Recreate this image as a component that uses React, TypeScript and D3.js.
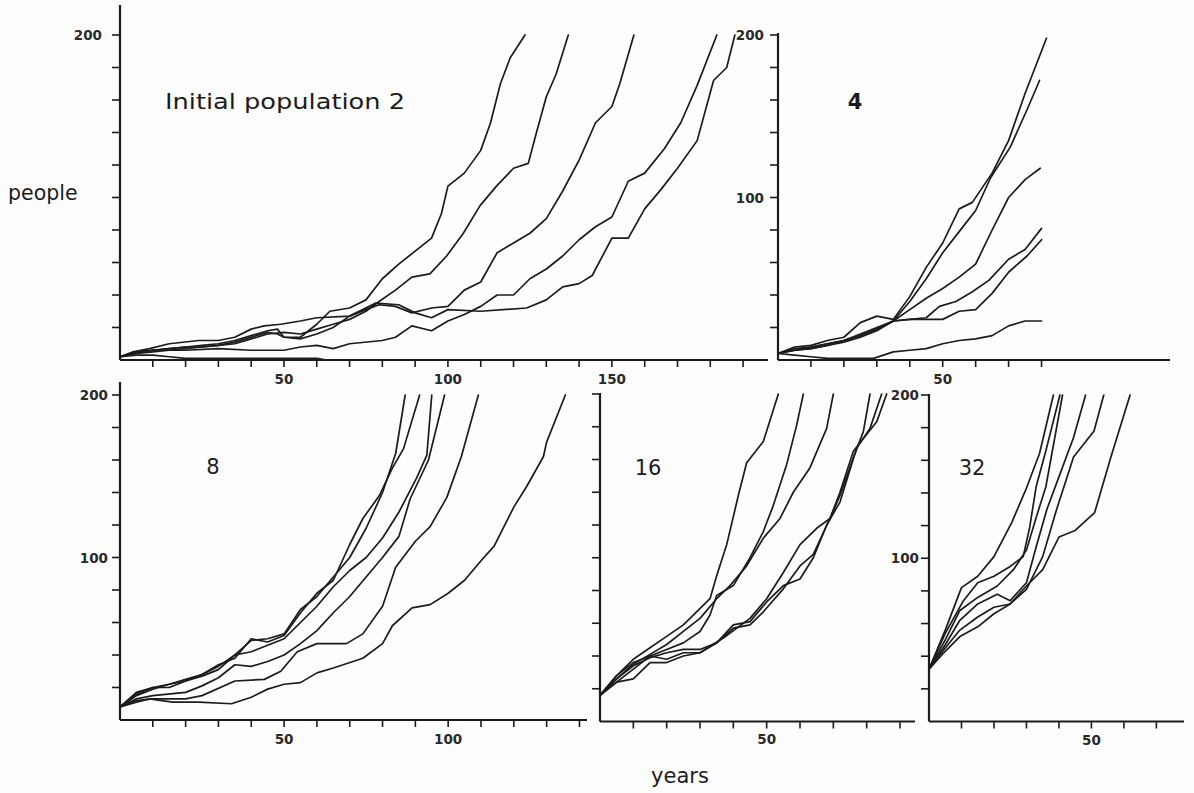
import React from 'react';
import * as d3 from 'd3';

type Pt = [number, number];

// ---------- data (years, people) ----------
const pop2Runs: Pt[][] = [
  [[0,2],[5,5],[10,6],[15,7],[20,8],[25,9],[30,10],[35,12],[40,15],[45,18],[48,19],[50,14],[55,14],[60,22],[64,30],[70,32],[75,37],[80,50],[85,59],[90,67],[95,75],[98,90],[100,107],[105,115],[110,129],[113,146],[116,170],[119,186],[123.5,200]],
  [[0,2],[5,4],[10,6],[15,7],[20,8],[25,8],[30,9],[35,10],[40,13],[45,16],[50,17],[55,16],[60,19],[65,22],[70,25],[75,30],[79,36],[84,43],[89,51],[94.5,53],[99.6,64],[104.7,78],[109.8,95],[114.8,107],[120,118],[124.5,121],[127,140],[130,162],[133,176],[136.7,200]],
  [[0,2],[5,4],[10,5],[15,6],[20,7],[25,8],[30,9],[35,11],[40,14],[45,17],[48,16],[50,14],[55,13],[60,16],[65,20],[70,27],[75,31],[79,34],[84,33],[89,29],[95,32],[100,33],[105,43],[110,48],[115,66],[120,72],[125,78],[130,87],[135,104],[140,123],[145,146],[150,156],[152.4,170],[156.7,200]],
  [[0,2],[5,5],[10,6],[20,6],[30,7],[40,6],[45,6],[50,6],[55,8],[60,9],[65,7],[70,10],[80,12],[84,14],[89,21],[95,18],[100,24],[105,28],[110,33],[115,40],[120,40],[125,50],[130,56],[135,64],[140,74],[145,82],[150,88],[155,110],[160,115],[166,130],[171,146],[176,169],[182,200]],
  [[0,2],[4,5],[9,7],[15,10],[24,12],[30,12],[35,14],[40,19],[44,21],[49,22],[55,24],[60,26],[70,27],[78,35],[85,34],[90,29],[95,26],[100,31],[110,30],[124,32],[130,37],[135,45],[140,47],[144,52],[150,75],[155,75],[160,93],[165,105],[170,118],[176,135],[181,172],[185,180],[187.5,200]],
  [[0,2],[5,3],[10,3],[15,2],[20,1],[60,1],[63,0]],
];

const pop4Runs: Pt[][] = [
  [[0,4],[5,8],[10,9],[15,12],[20,14],[25,23],[30,27],[35,25],[40,39],[45,57],[50,72],[55,93],[59,97],[65,115],[70,135],[75,164],[81.5,198]],
  [[0,4],[5,6],[10,8],[15,10],[20,12],[25,15],[30,19],[35,24],[40,36],[45,50],[50,66],[55,79],[60,92],[64.5,112],[70.5,131],[75.6,154],[79.4,172]],
  [[0,4],[5,6],[10,7],[15,9],[20,11],[25,14],[30,18],[35,24],[40,31],[45,38],[50,44],[55,51],[60,59],[65,80],[70,100],[75,111],[79.6,118]],
  [[0,4],[5,6],[10,7],[15,9],[20,12],[25,15],[30,19],[35,24],[40,25],[45,26],[49,33],[54,36],[59,42],[64,49],[70,62],[75,68],[80,81]],
  [[0,4],[5,7],[10,8],[15,10],[20,12],[25,16],[30,20],[35,24],[40,25],[45,25],[50,25],[55,30],[60,31],[65,41],[70,54],[75.6,64],[80,74]],
  [[0,4],[5,3],[10,2],[15,1],[20,1],[29,1],[35,5],[40,6],[45,7],[50,10],[55,12],[60,13],[65,15],[70,21],[75,24],[80,24]],
];

const pop8Runs: Pt[][] = [
  [[0,8],[5,17],[10,20],[15,22],[20,25],[25,28],[30,33],[35,40],[40,49],[45,50],[50,53],[55,68],[60,76],[65,88],[70,100],[75,118],[80,140],[84,164],[86.9,200]],
  [[0,8],[5,16],[10,20],[15,20],[20,24],[25,28],[30,34],[35,38],[40,50],[45,48],[50,52],[55,66],[60,78],[65,86],[70,108],[74,124],[79,138],[83,155],[86.4,167],[91.3,200]],
  [[0,8],[5,15],[10,19],[15,22],[20,24],[25,27],[30,31],[35,40],[40,42],[45,46],[50,50],[55,60],[60,70],[65,82],[70,92],[75,100],[80,112],[85,128],[90.4,149],[93.5,163],[95,200]],
  [[0,8],[5,13],[10,15],[20,17],[25,21],[30,26],[35,34],[40,33],[45,36],[50,40],[55,47],[60,55],[65,66],[70,76],[75,88],[80,100],[85,113],[88.4,136],[94,160],[98.9,200]],
  [[0,8],[5,12],[10,13],[20,13],[25,15],[35,24],[44,25],[49,30],[54,42],[60,47],[69,47],[74,53],[80,70],[84,94],[90,110],[94.5,119],[99.6,137],[104,162],[109.2,200]],
  [[0,8],[5,11],[9,13],[16,11],[24,11],[34,10],[40,14],[45,19],[50,22],[55,23],[60,29],[65,32],[74,38],[80,47],[83,58],[89,69],[94.5,71],[100,78],[105,86],[110,98],[114,107],[120,131],[124,144],[129,162],[130,171],[135.7,200]],
];

const pop16Runs: Pt[][] = [
  [[0,16],[5,28],[10,38],[15,45],[20,52],[25,59],[33,75],[35,89],[38,108],[41.5,138],[44,158],[49,171],[53.5,200]],
  [[0,16],[5,24],[10,32],[15,40],[20,44],[25,48],[30,55],[33,65],[35,77],[40,83],[45,100],[49,116],[52,132],[56,157],[59,181],[61,200]],
  [[0,16],[5,26],[10,35],[15,41],[20,47],[25,55],[30,63],[35,75],[39,83],[44,95],[49,112],[54,124],[58,140],[63,155],[68,179],[70,200]],
  [[0,16],[5,26],[10,34],[15,39],[20,42],[25,44],[30,44],[35,48],[40,57],[45,59],[49,67],[55,81],[60,95],[64,102],[69,124],[72,138],[76,161],[79,177],[81,200]],
  [[0,16],[5,28],[10,36],[15,40],[20,38],[25,42],[30,42],[35,48],[40,59],[45,61],[50,73],[55,83],[60,87],[64,100],[68,120],[72,134],[77,167],[81,179],[84.5,200]],
  [[0,16],[5,24],[10,26],[15,36],[20,36],[25,40],[30,42],[37,51],[45,63],[50,75],[55,91],[60,108],[65,118],[69,124],[72,140],[76,165],[83,183],[86,200]],
];

const pop32Runs: Pt[][] = [
  [[0,32],[5,56],[10,82],[15,89],[20,101],[25.5,122],[30,143],[34,164],[38.3,200]],
  [[0,32],[5,54],[10.6,74],[15,85],[20,89],[25,95],[29,101],[31,119],[33,144],[36,166],[40.3,200]],
  [[0,32],[5,50],[9.5,68],[15,76],[21,83],[26,93],[30,105],[33,125],[36,144],[41.1,200]],
  [[0,32],[5,47],[9.5,62],[15,72],[21,78],[25,74],[30,85],[33,107],[36.3,130],[40.4,152],[44.5,174],[48.2,200]],
  [[0,32],[5,45],[9.5,56],[15,64],[20,70],[25,72],[30,81],[35,101],[39.3,130],[44.5,162],[50.8,178],[53.8,200]],
  [[0,32],[5,43],[9.5,52],[15,58],[20,66],[25,72],[30,83],[35,93],[40,113],[45,117],[51,128],[56,162],[61.9,200]],
];

const panelLabels = ['Initial population 2', '4', '8', '16', '32'];
const yTickValues = [20, 40, 60, 80, 100, 120, 140, 160, 180, 200];
const yTickLabels: number[][] = [[200], [100, 200], [100, 200], [], [100, 200]];
const xTickLabels: number[][] = [[50, 100, 150], [50], [50, 100], [50], [50]];
const xTickMax = [190, 80, 140, 90, 70];
const yAxisTitle = 'people';
const xAxisTitle = 'years';

// ---------- layout ----------
const layout = [
  { runs: pop2Runs, xMax: 197.6, left: 120, right: 768, base: 360, top200: 35, axisTop: 5, yLabelRight: 102, xLabelBase: 384, labelX: 165, labelY: 109, anchor: 'start', labelW: 240 },
  { runs: pop4Runs, xMax: 119, left: 778, right: 1170, base: 360, top200: 35, axisTop: 33, yLabelRight: 764, xLabelBase: 384, labelX: 855, labelY: 109, anchor: 'middle', labelW: 0 },
  { runs: pop8Runs, xMax: 142.3, left: 120, right: 587, base: 720, top200: 395, axisTop: 382, yLabelRight: 108, xLabelBase: 744, labelX: 213, labelY: 474, anchor: 'middle', labelW: 0 },
  { runs: pop16Runs, xMax: 94.5, left: 600, right: 915, base: 721.5, top200: 394, axisTop: 393, yLabelRight: 590, xLabelBase: 744, labelX: 648, labelY: 475, anchor: 'middle', labelW: 0 },
  { runs: pop32Runs, xMax: 78.5, left: 929, right: 1184, base: 721.5, top200: 395, axisTop: 394, yLabelRight: 919, xLabelBase: 745, labelX: 972, labelY: 475, anchor: 'middle', labelW: 0 },
];

const ink = '#1c1c1c';

export default function App() {
  return (
    <div style={{ position: 'absolute', left: 0, top: 0 }}>
      <svg width={1194} height={793} style={{ display: 'block', background: '#fdfdfd' }}
        fontFamily="'DejaVu Sans', 'Open Sans', sans-serif">
        {layout.map((p, i) => {
          const xs = d3.scaleLinear().domain([0, p.xMax]).range([p.left, p.right]);
          const ys = d3.scaleLinear().domain([0, 200]).range([p.base, p.top200]);
          const line = d3.line<Pt>().x(d => xs(d[0])).y(d => ys(d[1]));
          const xt = d3.range(10, xTickMax[i] + 1, 10);
          return (
            <g key={i}>
              <line x1={p.left} x2={p.left} y1={p.base} y2={p.axisTop} stroke={ink} strokeWidth={2.2} />
              <line x1={p.left} x2={p.right} y1={p.base} y2={p.base} stroke={ink} strokeWidth={2.2} />
              {yTickValues.map(v => (
                <line key={'y' + v} x1={p.left - 8} x2={p.left} y1={ys(v)} y2={ys(v)} stroke={ink} strokeWidth={1.6} />
              ))}
              {xt.map(v => (
                <line key={'x' + v} x1={xs(v)} x2={xs(v)} y1={p.base} y2={p.base + 7} stroke={ink} strokeWidth={1.6} />
              ))}
              {yTickLabels[i].map(v => (
                <text key={'yl' + v} x={p.yLabelRight} y={ys(v) + 5} textAnchor="end" fontSize={13.5}
                  fontWeight="bold" fill="#2a2a2a">{v}</text>
              ))}
              {xTickLabels[i].map(v => (
                <text key={'xl' + v} x={xs(v)} y={p.xLabelBase} textAnchor="middle" fontSize={13.5}
                  fontWeight="bold" fill="#2a2a2a">{v}</text>
              ))}
              {p.runs.map((r, k) => (
                <path key={k} d={line(r) || ''} fill="none" stroke={ink} strokeWidth={1.7}
                  strokeLinejoin="round" strokeLinecap="round" />
              ))}
              {p.labelW > 0 ? (
                <text x={p.labelX} y={p.labelY} fontSize={21} fill={ink} textAnchor={p.anchor as any}
                  textLength={p.labelW} lengthAdjust="spacingAndGlyphs">{panelLabels[i]}</text>
              ) : (
                <text x={p.labelX} y={p.labelY} fontSize={21} fill={ink} textAnchor={p.anchor as any}
                  fontWeight={i === 1 ? 'bold' : 'normal'}>{panelLabels[i]}</text>
              )}
            </g>
          );
        })}
        <text x={8} y={200} fontSize={20.5} fill={ink}>{yAxisTitle}</text>
        <text x={680} y={783} fontSize={21} fill={ink} textAnchor="middle">{xAxisTitle}</text>
      </svg>
    </div>
  );
}
